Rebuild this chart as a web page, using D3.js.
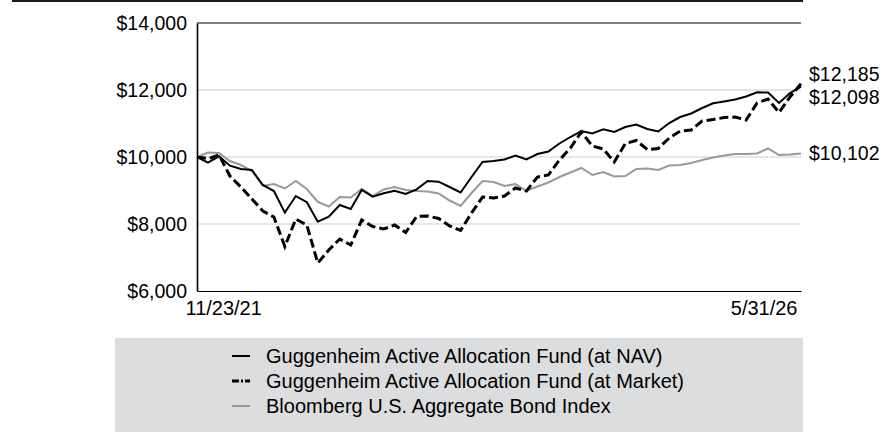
<!DOCTYPE html>
<html>
<head>
<meta charset="utf-8">
<script src="https://cdn.jsdelivr.net/npm/d3@7"></script>
<style>
  body { margin: 0; background: #fff; }
  svg { display: block; font-family: "Liberation Sans", Arial, Helvetica, sans-serif; }
</style>
</head>
<body>
<svg id="chart" width="893" height="445"></svg>
<script>
// growth of $10,000, one point per month end (first point is inception)
let navValues = [10000, 9830, 10020, 9740, 9640, 9610, 9165, 8985, 8340, 8835,
  8650, 8070, 8218, 8567, 8448, 9015, 8815, 8916, 8994, 8895,
  9036, 9283, 9263, 9104, 8940, 9403, 9851, 9880, 9925, 10045,
  9925, 10090, 10164, 10403, 10597, 10776, 10701, 10827, 10746, 10895,
  10970, 10836, 10761, 11015, 11194, 11299, 11463, 11603, 11657, 11716,
  11806, 11931, 11925, 11612, 11910, 12098];

let marketValues = [10000, 9950, 10060, 9433, 9104, 8746, 8388, 8209, 7328, 8149,
  7970, 6836, 7224, 7552, 7373, 8119, 7925, 7851, 7970, 7746,
  8224, 8239, 8164, 7940, 7806, 8328, 8806, 8776, 8836, 9075,
  8985, 9403, 9463, 9910, 10269, 10746, 10328, 10239, 9851, 10403,
  10493, 10224, 10254, 10567, 10776, 10806, 11075, 11119, 11179, 11194,
  11104, 11612, 11731, 11328, 11791, 12185];

let bondValues = [10000, 10134, 10119, 9880, 9761, 9582, 9134, 9194, 9060, 9284,
  9045, 8657, 8522, 8806, 8791, 9045, 8836, 9030, 9104, 9015,
  8985, 8970, 8910, 8701, 8537, 8925, 9284, 9254, 9134, 9194,
  8985, 9119, 9239, 9403, 9537, 9672, 9463, 9552, 9418, 9433,
  9642, 9657, 9612, 9746, 9761, 9821, 9910, 9985, 10045, 10090,
  10090, 10104, 10254, 10060, 10075, 10102];

let xTickLabels = ["11/23/21", "5/31/26"];
let yTicks = [6000, 8000, 10000, 12000, 14000];
let gridTicks = [8000, 10000, 12000];

let seriesNames = ["Guggenheim Active Allocation Fund (at NAV)",
  "Guggenheim Active Allocation Fund (at Market)",
  "Bloomberg U.S. Aggregate Bond Index"];

let plotLeft = 197, plotRight = 801, plotTop = 23, plotBottom = 291;
let fontSize = "19.5px";

let svg = d3.select("#chart");

let x = d3.scaleLinear()
  .domain([0, navValues.length - 1])
  .range([plotLeft, plotRight]);

let y = d3.scaleLinear()
  .domain([6000, 14000])
  .range([plotBottom, plotTop]);

let money = d3.format("$,");

// black rule across the top of the page
svg.append("rect")
  .attr("x", 12).attr("y", 0)
  .attr("width", 791).attr("height", 2)
  .attr("fill", "#1a1a1a");

// gridlines
svg.append("g")
  .selectAll("line")
  .data(gridTicks)
  .enter().append("line")
  .attr("x1", plotLeft).attr("x2", plotRight)
  .attr("y1", d => y(d)).attr("y2", d => y(d))
  .attr("stroke", "#e6e6e6")
  .attr("stroke-width", 2);

// top frame line
svg.append("line")
  .attr("x1", plotLeft).attr("x2", plotRight)
  .attr("y1", y(14000)).attr("y2", y(14000))
  .attr("stroke", "#000").attr("stroke-width", 1);

// y axis
let yAxis = svg.append("g")
  .attr("transform", `translate(${plotLeft},0)`)
  .call(d3.axisLeft(y).tickValues(yTicks).tickFormat(money).tickSize(0).tickPadding(10));
yAxis.select(".domain").attr("stroke", "#000").attr("stroke-width", 1.6);
yAxis.selectAll("text")
  .attr("font-size", fontSize)
  .attr("font-family", "Liberation Sans, Arial, sans-serif")
  .attr("fill", "#000");

// x axis, only the two end dates
let xAxis = svg.append("g")
  .attr("transform", `translate(0,${plotBottom})`)
  .call(d3.axisBottom(x).tickValues([0, navValues.length - 1])
    .tickFormat((d, i) => xTickLabels[i]).tickSize(0).tickPadding(0));
xAxis.select(".domain").attr("stroke", "#000").attr("stroke-width", 1);
xAxis.selectAll("text")
  .attr("font-size", "20px")
  .attr("font-family", "Liberation Sans, Arial, sans-serif")
  .attr("fill", "#000")
  .attr("y", 17)
  .attr("dy", "0.35em")
  .attr("text-anchor", (d, i) => i == 0 ? "start" : "end")
  .attr("dx", (d, i) => i == 0 ? -12 : -4);

let line = d3.line()
  .x((d, i) => x(i))
  .y(d => y(d));

svg.append("path")
  .datum(bondValues)
  .attr("fill", "none")
  .attr("stroke", "#999999")
  .attr("stroke-width", 2)
  .attr("d", line);

svg.append("path")
  .datum(navValues)
  .attr("fill", "none")
  .attr("stroke", "#000")
  .attr("stroke-width", 2)
  .attr("d", line);

svg.append("path")
  .datum(marketValues)
  .attr("fill", "none")
  .attr("stroke", "#000")
  .attr("stroke-width", 3)
  .attr("stroke-dasharray", "9,4")
  .attr("d", line);

// end value labels
let last = navValues.length - 1;
let endLabels = [
  {v: marketValues[last], dy: -10},
  {v: navValues[last], dy: 10},
  {v: bondValues[last], dy: 0}
];
svg.append("g")
  .selectAll("text")
  .data(endLabels)
  .enter().append("text")
  .attr("x", plotRight + 8)
  .attr("y", d => y(d.v) + d.dy)
  .attr("dy", "0.35em")
  .attr("font-size", fontSize)
  .attr("fill", "#000")
  .text(d => money(d.v));

// legend
svg.append("rect")
  .attr("x", 115).attr("y", 338)
  .attr("width", 688).attr("height", 94)
  .attr("fill", "#dcdddf");

let legendStyles = [
  {stroke: "#000", width: 2, dash: null},
  {stroke: "#000", width: 3, dash: "7,2,2,2"},
  {stroke: "#999999", width: 2, dash: null}
];

let legend = svg.append("g")
  .selectAll("g")
  .data(seriesNames)
  .enter().append("g")
  .attr("transform", (d, i) => `translate(232,${356 + i * 25})`);

legend.append("line")
  .attr("x1", 0).attr("x2", 18)
  .attr("stroke", (d, i) => legendStyles[i].stroke)
  .attr("stroke-width", (d, i) => legendStyles[i].width)
  .attr("stroke-dasharray", (d, i) => legendStyles[i].dash);

legend.append("text")
  .attr("x", 34)
  .attr("dy", "0.35em")
  .attr("font-size", "20px")
  .attr("fill", "#000")
  .text(d => d);
</script>
</body>
</html>
